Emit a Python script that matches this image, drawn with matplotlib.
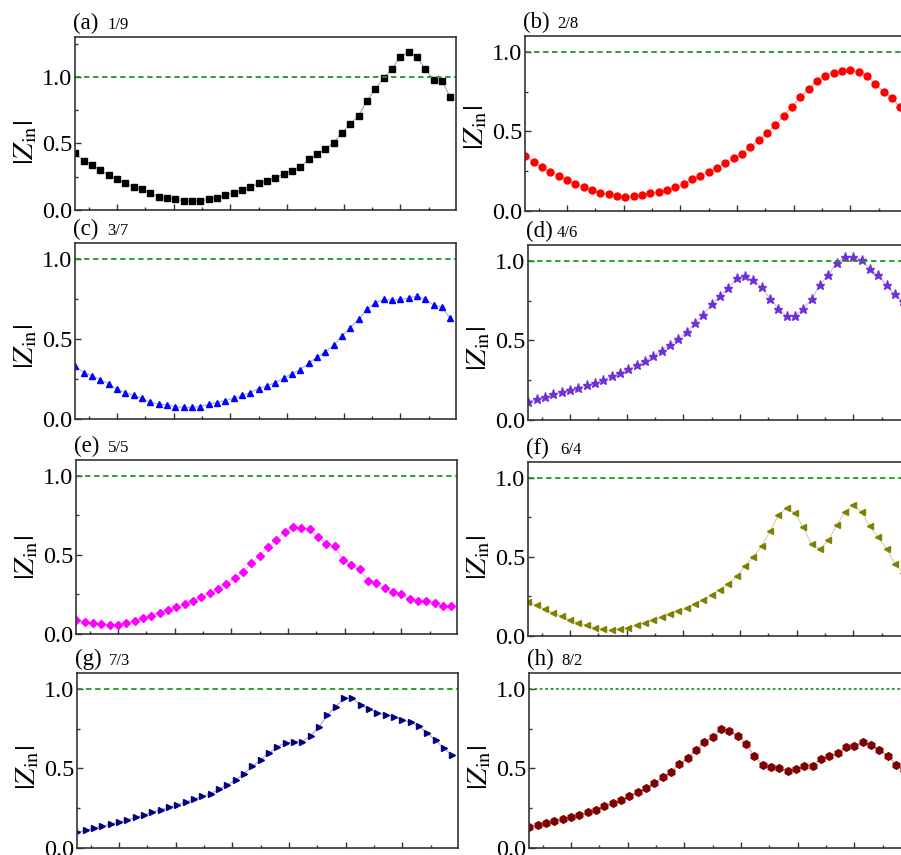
import numpy as np
import matplotlib
matplotlib.use('Agg')
import matplotlib.pyplot as plt
from matplotlib.ticker import FormatStrFormatter

plt.rcParams['font.family'] = ['Liberation Serif', 'DejaVu Serif']
plt.rcParams['mathtext.fontset'] = 'stix'

# |Zin|, 46 samples per panel
z_a = [0.425, 0.37, 0.34, 0.30, 0.26, 0.23, 0.20, 0.175, 0.155, 0.125,
       0.10, 0.09, 0.08, 0.07, 0.065, 0.07, 0.08, 0.09, 0.11, 0.13,
       0.15, 0.17, 0.20, 0.22, 0.24, 0.27, 0.295, 0.32, 0.38, 0.42,
       0.46, 0.505, 0.58, 0.645, 0.71, 0.82, 0.91, 0.99, 1.06, 1.15,
       1.19, 1.15, 1.06, 0.98, 0.97, 0.85]
z_b = [0.345, 0.305, 0.275, 0.245, 0.22, 0.195, 0.17, 0.15, 0.13, 0.115,
       0.105, 0.097, 0.09, 0.093, 0.10, 0.11, 0.12, 0.135, 0.15, 0.17,
       0.20, 0.22, 0.245, 0.27, 0.30, 0.33, 0.36, 0.405, 0.445, 0.49,
       0.54, 0.60, 0.655, 0.715, 0.765, 0.82, 0.85, 0.87, 0.88, 0.885,
       0.875, 0.85, 0.80, 0.75, 0.71, 0.655]
z_c = [0.33, 0.29, 0.27, 0.245, 0.22, 0.185, 0.165, 0.147, 0.13, 0.105,
       0.094, 0.088, 0.078, 0.073, 0.073, 0.078, 0.092, 0.103, 0.115, 0.13,
       0.147, 0.165, 0.19, 0.207, 0.228, 0.256, 0.283, 0.308, 0.35, 0.386,
       0.42, 0.46, 0.518, 0.57, 0.623, 0.685, 0.727, 0.748, 0.742, 0.748,
       0.755, 0.77, 0.748, 0.713, 0.70, 0.63]
z_d = [0.116, 0.13, 0.147, 0.162, 0.175, 0.19, 0.204, 0.217, 0.23, 0.253,
       0.274, 0.295, 0.32, 0.343, 0.373, 0.40, 0.436, 0.474, 0.51, 0.55,
       0.61, 0.663, 0.726, 0.78, 0.83, 0.89, 0.905, 0.88, 0.835, 0.762,
       0.70, 0.653, 0.653, 0.70, 0.758, 0.85, 0.91, 0.985, 1.027, 1.025,
       1.004, 0.947, 0.91, 0.846, 0.79, 0.745]
z_e = [0.088, 0.074, 0.067, 0.063, 0.057, 0.057, 0.072, 0.084, 0.099, 0.116,
       0.135, 0.152, 0.168, 0.187, 0.21, 0.232, 0.257, 0.282, 0.316, 0.352,
       0.394, 0.446, 0.493, 0.552, 0.594, 0.646, 0.674, 0.667, 0.663, 0.611,
       0.568, 0.556, 0.467, 0.436, 0.408, 0.337, 0.32, 0.293, 0.263, 0.25,
       0.219, 0.21, 0.21, 0.194, 0.179, 0.179]
z_f = [0.215, 0.194, 0.168, 0.145, 0.124, 0.103, 0.082, 0.067, 0.053, 0.042,
       0.036, 0.042, 0.053, 0.067, 0.082, 0.099, 0.12, 0.137, 0.156, 0.177,
       0.20, 0.229, 0.261, 0.293, 0.326, 0.379, 0.44, 0.50, 0.568, 0.661,
       0.762, 0.811, 0.777, 0.688, 0.579, 0.552, 0.604, 0.699, 0.783, 0.83,
       0.783, 0.693, 0.625, 0.552, 0.457, 0.40]
z_g = [0.098, 0.111, 0.126, 0.136, 0.151, 0.163, 0.178, 0.192, 0.209, 0.224,
       0.241, 0.255, 0.272, 0.287, 0.308, 0.324, 0.341, 0.37, 0.397, 0.429,
       0.467, 0.513, 0.554, 0.60, 0.634, 0.663, 0.665, 0.669, 0.705, 0.759,
       0.837, 0.889, 0.941, 0.941, 0.90, 0.872, 0.851, 0.837, 0.826, 0.805,
       0.789, 0.764, 0.722, 0.676, 0.628, 0.582]
z_h = [0.132, 0.147, 0.157, 0.168, 0.182, 0.195, 0.21, 0.224, 0.241, 0.266,
       0.283, 0.30, 0.325, 0.352, 0.378, 0.409, 0.445, 0.478, 0.528, 0.566,
       0.614, 0.667, 0.696, 0.748, 0.738, 0.706, 0.656, 0.577, 0.524, 0.509,
       0.503, 0.486, 0.499, 0.518, 0.518, 0.562, 0.577, 0.597, 0.633, 0.644,
       0.665, 0.65, 0.618, 0.581, 0.524, 0.49]

panel_tags = ['(a)', '(b)', '(c)', '(d)', '(e)', '(f)', '(g)', '(h)']
ratios = ['1/9', '2/8', '3/7', '4/6', '5/5', '6/4', '7/3', '8/2']
series = [z_a, z_b, z_c, z_d, z_e, z_f, z_g, z_h]
colors = ['#000000', '#ff0000', '#0000ff', '#7030d8',
          '#ff00ff', '#808000', '#000080', '#800000']
markers = ['s', 'o', '^', '*', 'D', '<', '>', 'h']
msizes = [4.5, 5, 5, 6.5, 4, 5, 5, 5.5]
ytops = [1.3, 1.1, 1.1, 1.1, 1.1, 1.1, 1.1, 1.1]

W, H = 901, 855
# axes boxes in pixels: left, top, bottom
boxes = [(75, 37, 210), (525, 36, 211),
         (75, 243, 419), (528, 245, 420),
         (76, 460, 634), (528, 462, 636),
         (77, 673, 848), (529, 673, 848)]
axw = 381
label_y = [0.39, 0.48, 0.41, 0.41, 0.44, 0.45, 0.46, 0.46]

x = np.arange(46)

fig = plt.figure(figsize=(W / 100, H / 100), dpi=100)

for i in range(8):
    l, t, b = boxes[i]
    ax = fig.add_axes([l / W, 1 - b / H, axw / W, (b - t) / H])
    ax.plot(x, series[i], '-', color=colors[i], lw=0.8, alpha=0.35)
    ax.plot(x, series[i], linestyle='none', marker=markers[i],
            color=colors[i], ms=msizes[i], mec=colors[i])
    ax.axhline(1.0, color='#1a9a1a', lw=1.3, dashes=(3, 2) if i != 7 else (1.5, 1.5))
    ax.set_xlim(-0.05, 45.7)
    ax.set_ylim(0, ytops[i])
    ax.set_xticks(np.arange(5.0, 45, 6.8))
    ax.set_xticks(np.arange(1.6, 45, 6.8), minor=True)
    ax.set_yticks([0.0, 0.5, 1.0])
    ax.set_yticks([0.25, 0.75] + ([1.25] if ytops[i] > 1.2 else []), minor=True)
    ax.yaxis.set_major_formatter(FormatStrFormatter('%.1f'))
    ax.tick_params(which='both', direction='in', top=False, right=False,
                   labelbottom=False, width=1, colors='#333333')
    ax.tick_params(which='major', length=4.5, labelsize=17.5, pad=2, labelcolor='black')
    ax.tick_params(which='minor', length=2.5)
    for sp in ax.spines.values():
        sp.set_linewidth(1.2)
        sp.set_color('#333333')
    ax.set_ylabel(r'$|Z_{\rm in}|$', fontsize=21, labelpad=0)
    ax.yaxis.set_label_coords(-0.095, label_y[i])
    ax.annotate(panel_tags[i], xy=(0, 1), xycoords='axes fraction',
                xytext=(-2, 3), textcoords='offset pixels',
                fontsize=16.5, ha='left', va='bottom')
    gap = 32 if panel_tags[i] != '(d)' else 29
    ax.annotate(ratios[i], xy=(0, 1), xycoords='axes fraction',
                xytext=(gap, 4), textcoords='offset pixels',
                fontsize=12, ha='left', va='bottom')

fig.savefig('out.png', dpi=100)
